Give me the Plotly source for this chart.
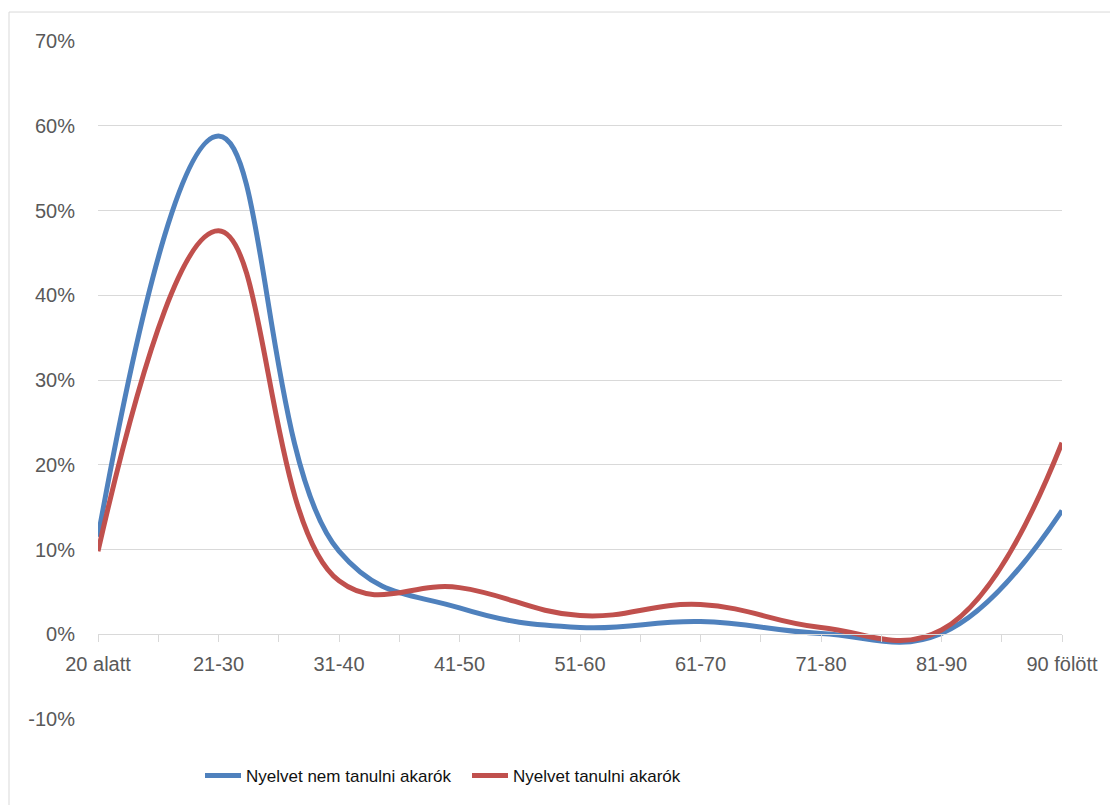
import plotly.graph_objects as go

categories = ["20 alatt", "21-30", "31-40", "41-50", "51-60", "61-70", "71-80", "81-90", "90 fölött"]
nem_tanulni = [11.5, 58.8, 9.8, 3.1, 0.8, 1.5, 0.1, 0.1, 14.6]
tanulni = [9.8, 47.6, 6.3, 5.5, 2.2, 3.5, 0.8, 0.5, 22.6]
series_names = ["Nyelvet nem tanulni akarók", "Nyelvet tanulni akarók"]
y_ticks = [-10, 0, 10, 20, 30, 40, 50, 60, 70]
y_ticktext = ["-10%", "0%", "10%", "20%", "30%", "40%", "50%", "60%", "70%"]

xs = list(range(len(categories)))

fig = go.Figure()
fig.add_trace(go.Scatter(x=xs, y=nem_tanulni, name=series_names[0], mode="lines",
                         line=dict(color="#4F81BD", width=5, shape="spline", smoothing=1.2)))
fig.add_trace(go.Scatter(x=xs, y=tanulni, name=series_names[1], mode="lines",
                         line=dict(color="#C0504D", width=5, shape="spline", smoothing=1.2)))

# page body has an 8px offset
OFF = 8
W, H = 1118 - OFF, 805 - OFF
L, R, T, B = 98 - OFF, 56, 41 - OFF, 85
pw = W - L - R
ph = H - T - B

def py(page_y):
    return (T + ph - (page_y - OFF)) / ph

def px(page_x):
    return (page_x - OFF - L) / pw

fig.update_layout(
    width=W, height=H,
    margin=dict(l=L, r=R, t=T, b=B),
    paper_bgcolor="white", plot_bgcolor="white",
    font=dict(family="Liberation Sans, Arial, sans-serif", color="#595959", size=20),
    showlegend=True,
    legend=dict(orientation="h", x=px(200), xanchor="left",
                y=py(776), yanchor="middle",
                font=dict(family="Liberation Sans Narrow, Liberation Sans, sans-serif", size=17, color="#111111"),
                itemwidth=36, tracegroupgap=0, entrywidth=216, entrywidthmode="pixels"),
    xaxis=dict(range=[0, len(categories) - 1], tickmode="array", tickvals=xs, ticktext=categories,
               showgrid=False, zeroline=False, showline=True, linecolor="#D9D9D9", linewidth=1,
               ticks="outside", ticklen=7, tickcolor="#D9D9D9", tickwidth=1,
               anchor="free", position=10 / 80, ticklabelstandoff=5,
               minor=dict(tickmode="linear", tick0=0, dtick=0.5, ticks="outside", ticklen=7,
                          tickcolor="#D9D9D9", tickwidth=1, showgrid=False),
               fixedrange=True),
    yaxis=dict(range=[-10, 70], tickmode="array", tickvals=y_ticks, ticktext=y_ticktext,
               showgrid=True, gridcolor="#D9D9D9", gridwidth=1, zeroline=False, showline=False,
               ticks="", ticklabelstandoff=22, fixedrange=True),
    shapes=[dict(type="rect", xref="paper", yref="paper",
                 x0=px(9), x1=px(1140),
                 y0=py(830), y1=py(12),
                 line=dict(color="#D9D9D9", width=1), fillcolor="rgba(0,0,0,0)", layer="below")],
)

fig.write_html("out.html")
